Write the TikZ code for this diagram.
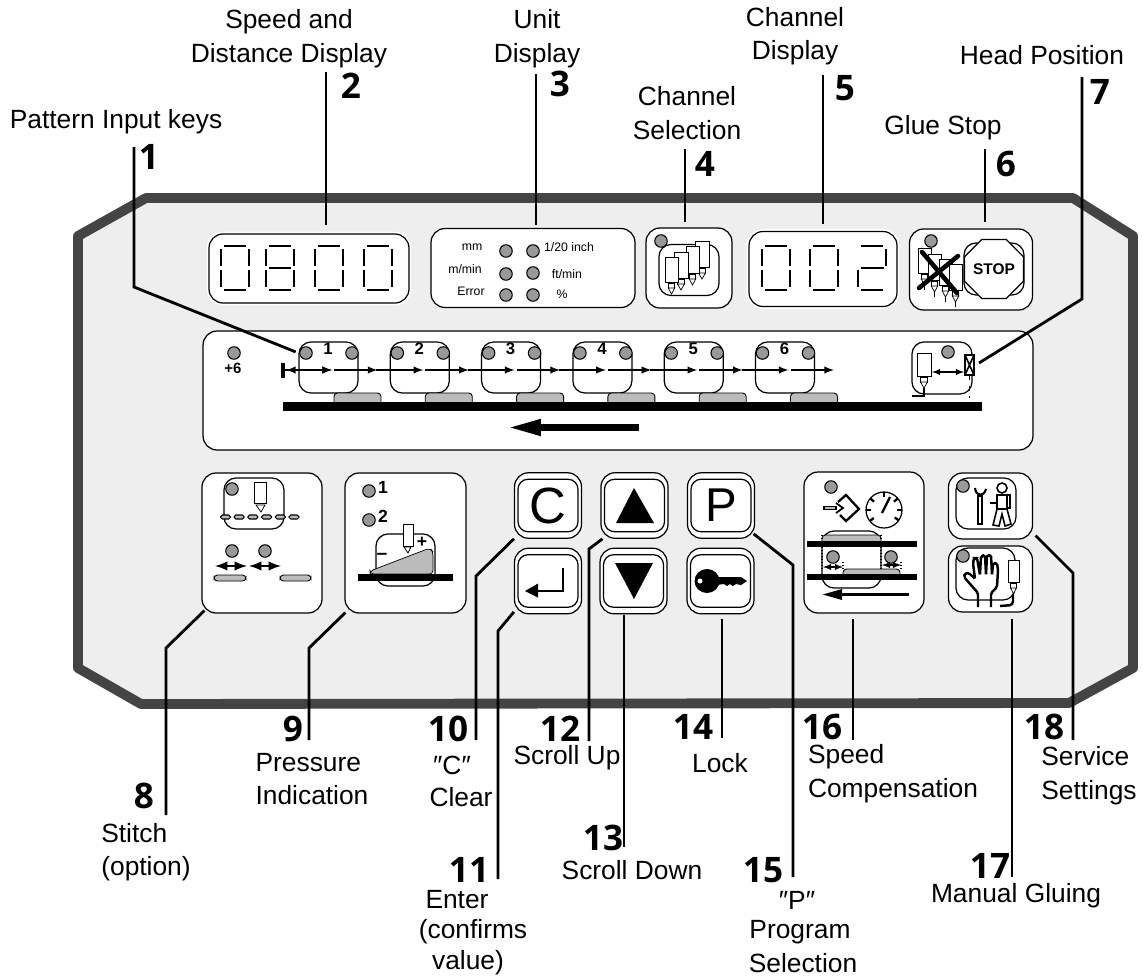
\documentclass[tikz,border=0pt]{standalone}
\usepackage{fontspec}
\setmainfont{Liberation Sans}
\newfontfamily\numfont{Open Sans}
\usetikzlibrary{arrows.meta,shapes.geometric}

\definecolor{panelgrey}{HTML}{EEEEEE}
\definecolor{framegrey}{HTML}{444444}
\definecolor{ledgrey}{HTML}{999999}
\definecolor{padgrey}{HTML}{BBBBBB}

% seven segment digits, list is xa/ya/xb/yb
\def\segzero{3/0/25/0, 0/3/0/20, 28/3/28/20, 0/24/0/41, 28/24/28/41, 3/44/25/44}
\def\segtwo{3/0/25/0, 28/3/28/20, 0/24/0/41, 3/44/25/44}
\newcommand{\segdigit}[3]{\foreach \xa/\ya/\xb/\yb in #3 {\draw[segline] (#1+\xa,#2+\ya) -- (#1+\xb,#2+\yb);}}
% glue head: x, y, body width, body height
\newcommand{\gluehead}[4]{
  \draw[fill=white] (#1,#2) rectangle (#1+#3,#2+#4);
  \draw[fill=white] (#1+#3*0.25,#2+#4+1) rectangle (#1+#3*0.75,#2+#4+6);
  \draw[fill=white] (#1+#3*0.25,#2+#4+6) -- (#1+#3*0.5,#2+#4+12) -- (#1+#3*0.75,#2+#4+6) -- cycle;
}

\begin{document}
\begin{tikzpicture}[x=0.02cm,y=-0.02cm,
box/.style={rectangle, draw, fill=white, rounded corners=0.28cm, line width=0.7pt, inner sep=0pt},
frame/.style={rectangle, draw, rounded corners=0.24cm, line width=0.7pt, inner sep=0pt, minimum width=1.18cm, minimum height=1.02cm},
keyout/.style={box, minimum width=1.34cm, minimum height=1.31cm},
keyin/.style={rectangle, draw, rounded corners=0.2cm, line width=0.7pt, inner sep=0pt, minimum width=1.2cm, minimum height=1.05cm},
display/.style={box, preaction={draw=white, line width=2.6pt}},
led/.style={circle, draw, fill=ledgrey, inner sep=0pt, minimum size=0.25cm, line width=0.6pt},
lead/.style={line width=1.6pt},
segline/.style={line width=1pt},
pad/.style={draw, fill=padgrey, line width=0.5pt, rounded corners=2pt},
flow/.style={line width=0.9pt, -latex},
lbl/.style={inner sep=0pt, align=center, font=\fontsize{15}{19}\selectfont},
num/.style={inner sep=0pt, font=\numfont\bfseries\fontsize{20}{20}\selectfont},
small/.style={inner sep=0pt, font=\fontsize{7}{7}\selectfont}
]
\useasboundingbox (0,0) rectangle (1143,977);

% front panel
\draw[line width=5.6pt, draw=framegrey, fill=panelgrey, line join=round]
  (78,236) -- (146,198) -- (1073,198) -- (1133,236) -- (1133,668) -- (1069,703) -- (141,704) -- (78,668) -- cycle;

% top row
\node[display, minimum width=4cm, minimum height=1.38cm] (speed) at (309,268.5) {};
\segdigit{221}{246}{\segzero}
\segdigit{266}{246}{\segzero}
\draw[line width=1.6pt] (269,268) -- (291,268);
\segdigit{315}{246}{\segzero}
\segdigit{364}{246}{\segzero}

\node[box, minimum width=4.08cm, minimum height=1.58cm] (unit) at (533,268) {};
\foreach \x/\y [count=\i] in {506/251,533/251,506/274,533/273,506/295,533/295}
  \node[led] (unitled\i) at (\x,\y) {};
\node[small] (mm) at (472,247) {mm};
\node[small] (mmin) at (465,269) {m/min};
\node[small] (err) at (471,291) {Error};
\node[small] (inch) at (569,247) {1/20 inch};
\node[small] (ftmin) at (567,274) {ft/min};
\node[small] (pct) at (562,294) {\%};

\node[box, minimum width=1.72cm, minimum height=1.6cm] (chan) at (689,268) {};
\node[frame, minimum width=1.2cm, minimum height=1.02cm] (chanin) at (689,270) {};
\gluehead{695}{241}{14}{26}
\gluehead{686}{246}{13}{27}
\gluehead{674}{252}{14}{26}
\gluehead{665}{257}{13}{25}
\node[led] (chanled) at (661,241) {};

\node[display, minimum width=2.96cm, minimum height=1.5cm] (chandisp) at (823,269) {};
\segdigit{762}{246}{\segzero}
\segdigit{810}{246}{\segzero}
\segdigit{858}{246}{\segtwo}
\draw[line width=1.6pt] (861,268) -- (884,268);

\node[box, minimum width=2.46cm, minimum height=1.62cm] (stop) at (971,269.5) {};
\node[frame, minimum width=1.2cm, minimum height=1.04cm] (stopin) at (994,269) {};
\node[regular polygon, regular polygon sides=8, draw, fill=white, inner sep=0pt, minimum size=1.17cm, line width=0.7pt, font=\bfseries\fontsize{8.8}{9}\selectfont] (stopsign) at (994,269) {STOP};
\foreach \x/\y/\h in {918/248/25,928/254/26,939/259/26,949/264/26}{
  \gluehead{\x}{\y}{13}{\h}
  \draw[line width=1pt, dashed] (\x+6.5,\y+\h+12) -- (\x+6.5,\y+\h+19);
}
\node[led] (stopled) at (931,241) {};
\draw[line width=2.6pt, line cap=round] (922,252) -- (957,293);
\draw[line width=2.6pt, line cap=round] (919,288) -- (958,256);

% pattern strip
\node[box, minimum width=16.6cm, minimum height=2.38cm] (strip) at (618,390.5) {};
\node[led] (ledsix) at (234,353) {};
\node[inner sep=0pt, font=\bfseries\fontsize{8.5}{9}\selectfont] (six) at (233,368) {+6};
\foreach \i in {1,...,6}{
  \pgfmathsetmacro{\gx}{299+91.3*(\i-1)}
  \node[frame] (grp\i) at (\gx+29.5,367.5) {};
  \node[led] (grpa\i) at (\gx+7,353) {};
  \node[led] (grpb\i) at (\gx+53,353) {};
  \node[inner sep=0pt, font=\bfseries\fontsize{9.5}{10}\selectfont] (grpn\i) at (\gx+29,349) {\i};
  \draw[pad] (\gx+35,402) -- (\gx+35,393) -- (\gx+82,393) -- (\gx+82,402);
  \draw[flow] (\gx-14,370) -- (\gx+33,370);
  \draw[flow] (\gx+35,370) -- (\gx+78.5,370);
}
\draw[flow, latex-latex] (286,370) -- (332,370);
\draw[line width=2.2pt] (283,363) -- (283,378);
\fill (283,402) rectangle (982,411);
\draw[line width=4pt, -{Triangle[length=0.68cm,width=0.3cm]}] (639,427.5) -- (507,427.5);

% head position
\node[frame, minimum width=1.2cm, minimum height=1.04cm] (headbox) at (942,368) {};
\node[led] (headled) at (948,352) {};
\gluehead{917}{353}{14}{23}
\draw[line width=1.3pt] (924,388) -- (924,396) -- (912,396);
\draw[flow, latex-latex, line width=0.6pt] (932,372) -- (964,372);
\draw[fill=white, line width=0.9pt] (965,355) rectangle (974,375);
\draw[line width=0.9pt] (965,355) -- (974,375) (974,355) -- (965,375);
\draw[line width=0.9pt, dashed] (969.5,375) -- (969.5,398);

% left keys
\node[box, minimum width=2.4cm, minimum height=2.8cm] (stitch) at (262,543) {};
\node[frame, minimum width=1.2cm, minimum height=1.02cm] (stitchin) at (254,503.5) {};
\node[led] (stitchled) at (232,489) {};
\draw[fill=white] (254,482) rectangle (266,503);
\draw[fill=white] (256,505) -- (261,512) -- (265,505) -- cycle;
\foreach \i in {0,...,5}
  \draw[fill=padgrey, line width=0.6pt, rounded corners=1pt] (220.5+13.7*\i,515) rectangle (230.5+13.7*\i,519);
\node[led] (stitcha) at (232,551) {};
\node[led] (stitchb) at (265,551) {};
\draw[line width=1.4pt, latex-latex] (215,566) -- (247,566);
\draw[line width=1.4pt, latex-latex] (249,566) -- (281,566);
\draw[pad] (214,575) rectangle (246,581);
\draw[pad] (280,575) rectangle (311,581);

\node[box, minimum width=2.42cm, minimum height=2.8cm] (press) at (405.5,543) {};
\node[led] (pressa) at (369,491) {};
\node[led] (pressb) at (369,520) {};
\node[inner sep=0pt, font=\bfseries\fontsize{10}{10}\selectfont] (pressn1) at (383,487) {1};
\node[inner sep=0pt, font=\bfseries\fontsize{10}{10}\selectfont] (pressn2) at (383,516) {2};
\node[frame, minimum width=1.18cm, minimum height=1.04cm] (pressin) at (405.5,560) {};
\draw[fill=white] (403,524) rectangle (413,546);
\draw[fill=white] (404,547) -- (408,553) -- (411,547) -- cycle;
\draw[fill=padgrey, rounded corners=2pt] (370,574) -- (370,571) -- (430,548) -- (433,552) -- (433,574) -- cycle;
\fill (358,574) rectangle (453,581);
\node[inner sep=0pt, font=\bfseries\fontsize{10}{10}\selectfont] (plus) at (422,542) {+};
\node[inner sep=0pt, font=\bfseries\fontsize{11}{10}\selectfont] (minus) at (382,556) {--};

% keys
\node[keyout] (cout) at (548,505.5) {};
\node[keyin, font=\fontsize{29}{29}\selectfont] (ckey) at (548,505.5) {C};
\node[keyout] (upout) at (634.5,505.5) {};
\node[keyin] (upkey) at (634.5,505.5) {};
\node[keyout] (pout) at (721,505.5) {};
\node[keyin, font=\fontsize{27}{27}\selectfont] (pkey) at (721,505.5) {P};
\node[keyout] (entout) at (548,581) {};
\node[keyin] (entkey) at (548,581) {};
\node[keyout] (downout) at (633.5,581) {};
\node[keyin] (downkey) at (633.5,581) {};
\node[keyout] (lockout) at (720.5,581) {};
\node[keyin] (lockkey) at (720.5,581) {};
\fill (634,488) -- (616,523) -- (654,523) -- cycle;
\fill (615,563) -- (653,563) -- (634,599) -- cycle;
\draw[line width=1.3pt] (563,568) -- (563,591) -- (535,591);
\fill (525,591) -- (538,583.5) -- (538,597.5) -- cycle;
\fill (707,581) ellipse [x radius=12.5, y radius=12];
\fill (716,577) -- (741,577) -- (747,581) -- (741,585) -- (736,584) -- (733,586) -- (730,584) -- (727,586) -- (724,584) -- (716,585) -- cycle;
\fill[white] (700,581) circle [radius=2.5];

% speed compensation
\node[box, minimum width=2.4cm, minimum height=2.82cm] (comp) at (864,542.5) {};
\node[led] (compled) at (831,487) {};
\draw[fill=padgrey, line width=0.6pt] (824,506.5) rectangle (836,509.5);
\draw[line width=1pt] (836,503) -- (843,508) -- (836,513);
\draw[line width=1.3pt] (838,502) -- (846,495) -- (859,509) -- (846,521) -- (840,515);
\draw[line width=0.7pt] (884,510) circle [radius=18];
\foreach \a in {90,40,0,-35,180,140,218}
  \draw[line width=1.3pt] (884,510) ++(\a:0.26cm) -- ++(\a:0.1cm);
\draw[line width=1.3pt] (882,513) -- (890,497);
\node[frame, minimum width=1.18cm, minimum height=1.14cm] (compin) at (851.5,559.5) {};
\draw[pad] (822,541) -- (822,535) -- (881,535) -- (881,541);
\fill (807,541) rectangle (917,547);
\draw[pad] (843,574) -- (843,569) -- (900,569) -- (900,574);
\fill (807,574) rectangle (917,580);
\node[led] (compa) at (833,557) {};
\node[led] (compb) at (891,557) {};
\draw[line width=0.7pt, densely dotted] (822,535) -- (822,570) (881,535) -- (881,570) (843,562) -- (843,570) (901,562) -- (901,570);
\draw[line width=0.6pt, latex-latex] (823,567) -- (843,567);
\draw[line width=0.6pt, latex-latex] (882,565) -- (901,565);
\draw[line width=1.8pt, -{Triangle[length=0.4cm,width=0.2cm]}] (909,594.5) -- (822,594.5);

% service
\node[box, minimum width=1.68cm, minimum height=1.32cm] (serv) at (990.5,506) {};
\node[frame, minimum width=1.2cm, minimum height=1.02cm] (servin) at (986,503.5) {};
\node[led] (servled) at (963,486) {};
\draw[line width=0.8pt] (978,496) rectangle (982,524);
\draw[line width=1.2pt] (975,488) .. controls (976,497) and (984,497) .. (986,489);
\draw[line width=0.9pt] (1002,488) circle [radius=5];
\draw[line width=0.9pt, fill=white] (997,495) rectangle (1007,509);
\draw[line width=0.9pt] (1007,495) rectangle (1010,508);
\draw[line width=1.1pt] (990,503) -- (997,503);
\draw[line width=0.9pt] (997,509) -- (993,525) -- (999,526) -- (1002,514) -- (1005,526) -- (1011,524) -- (1007,509);

% manual gluing
\node[box, minimum width=1.68cm, minimum height=1.32cm] (manual) at (990.5,579) {};
\node[frame, minimum width=1.18cm, minimum height=1.04cm] (manualin) at (985.5,574) {};
\node[led] (manualled) at (963,556) {};
\draw[line width=1.4pt, rounded corners=1pt] (978,607) -- (978,593) -- (964,577) -- (965,573) -- (969,573) -- (975,579) -- (973,563) -- (974,558) -- (977,558) -- (980,575) -- (981,556) -- (985,555) -- (986,575) -- (987,555) -- (991,555) -- (992,575) -- (993,563) -- (997,563) -- (998,570) -- (997,587) -- (991,593) -- (991,607);
\gluehead{1008}{560}{11}{22}
\draw[line width=1.4pt, rounded corners=2pt] (1013,594) -- (1013,605) -- (1000,606);

% leaders and labels, top
\node[num] (n1) at (149,157) {1};
\node[lbl] (t1) at (116,122) {Pattern Input keys};
\coordinate (e1) at (134,147);
\coordinate (b1) at (134,287);
\draw[lead, shorten >=0.06cm] (e1) -- (b1) -- (grp1.north west |- grpa1.west);

\node[num] (n2) at (351,86) {2};
\node[lbl] (t2) at (289,38.5) {Speed and\\Distance Display};
\coordinate (e2) at (326,72);
\draw[lead, shorten >=0.17cm] (e2) -- (e2 |- speed.north);

\node[num] (n3) at (560,84) {3};
\node[lbl] (t3) at (537,38.5) {Unit\\Display};
\coordinate (e3) at (536,74);
\draw[lead, shorten >=0.06cm] (e3) -- (e3 |- unit.north);

\node[num] (n4) at (705,164) {4};
\node[lbl] (t4) at (687,113) {Channel\\Selection};
\coordinate (e4) at (685,149);
\draw[lead, shorten >=0.1cm] (e4) -- (e4 |- chan.north);

\node[num] (n5) at (845,88) {5};
\node[lbl] (t5) at (795,36) {Channel\\Display};
\coordinate (e5) at (823,75);
\draw[lead, shorten >=0.14cm] (e5) -- (e5 |- chandisp.north);

\node[num] (n6) at (1006,164) {6};
\node[lbl] (t6) at (943,128) {Glue Stop};
\coordinate (e6) at (985,149);
\draw[lead, shorten >=0.12cm] (e6) -- (e6 |- stop.north);

\node[num] (n7) at (1100,92) {7};
\node[lbl] (t7) at (1042,55) {Head Position};
\coordinate (e7) at (1082,77);
\coordinate (b7) at (1082,299);
\coordinate (s7) at (979,363);
\draw[lead] (e7) -- (b7) -- (s7);

% leaders and labels, bottom
\node[num] (n8) at (144,796) {8};
\node[lbl, align=left] (t8) at (146,852) {Stitch\\(option)};
\coordinate (e8) at (166,815);
\coordinate (b8) at (166,648);
\draw[lead] (e8) -- (b8) -- ([xshift=0.06cm,yshift=0.06cm]stitch.south west);

\node[num] (n9) at (293,729) {9};
\node[lbl, align=left] (t9) at (312,779) {Pressure\\Indication};
\coordinate (e9) at (309,740);
\coordinate (b9) at (309,648);
\draw[lead] (e9) -- (b9) -- ([xshift=0.02cm,yshift=0.02cm]press.south west);

\node[num] (n10) at (448,729) {10};
\node[lbl] (t10a) at (452,765) {″C″};
\node[lbl] (t10b) at (461,797) {Clear};
\coordinate (e10) at (476,740);
\coordinate (b10) at (476,576);
\draw[lead] (e10) -- (b10) -- (cout.south west);

\node[num] (n11) at (469,870) {11};
\node[lbl] (t11a) at (457,900) {Enter};
\node[lbl] (t11b) at (473,932) {(confirms};
\node[lbl] (t11c) at (468,963) {value)};
\coordinate (e11) at (498,879);
\coordinate (b11) at (498,631);
\draw[lead] (e11) -- (b11) -- ([yshift=0.05cm]entout.south west);

\node[num] (n12) at (560,729) {12};
\node[lbl] (t12) at (567,758) {Scroll Up};
\coordinate (e12) at (589,741);
\coordinate (b12) at (589,549);
\draw[lead] (e12) -- (b12) -- ([xshift=0.04cm]upout.south west);

\node[num] (n13) at (603,838) {13};
\node[lbl] (t13) at (632,870) {Scroll Down};
\coordinate (e13) at (624,847);
\draw[lead, shorten >=0.02cm] (e13) -- (e13 |- downout.south);

\node[num] (n14) at (693,727) {14};
\node[lbl] (t14) at (720,763) {Lock};
\coordinate (e14) at (722,738);
\draw[lead, shorten >=0.1cm] (e14) -- (e14 |- lockout.south);

\node[num] (n15) at (763,870) {15};
\node[lbl] (t15a) at (797,900) {″P″};
\node[lbl] (t15b) at (800,932) {Program};
\node[lbl] (t15c) at (803,963) {Selection};
\coordinate (e15) at (793,877);
\coordinate (b15) at (793,565);
\draw[lead] (e15) -- (b15) -- ([xshift=-0.03cm,yshift=0.1cm]pout.south east);

\node[num] (n16) at (822,727) {16};
\node[lbl, align=left] (t16) at (893,773.5) {Speed\\Compensation};
\coordinate (e16) at (853,740);
\draw[lead, shorten >=0.1cm] (e16) -- (e16 |- comp.south);

\node[num] (n17) at (990,866) {17};
\node[lbl] (t17) at (1016,896) {Manual Gluing};
\coordinate (e17) at (1012,877);
\draw[lead, shorten >=0.12cm] (e17) -- (e17 |- manual.south);

\node[num] (n18) at (1044,727) {18};
\node[lbl, align=left] (t18) at (1089,775.5) {Service\\Settings};
\coordinate (e18) at (1073,740);
\coordinate (b18) at (1073,573);
\draw[lead] (e18) -- (b18) -- ([xshift=0.05cm,yshift=0.08cm]serv.south east);

\end{tikzpicture}
\end{document}
